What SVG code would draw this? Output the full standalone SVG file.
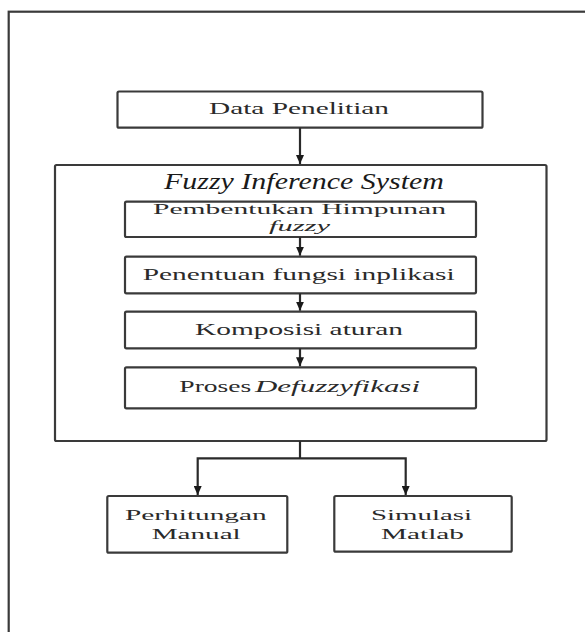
<svg xmlns="http://www.w3.org/2000/svg" width="585" height="632" viewBox="0 0 585 632">
<defs>
<style>
.box{fill:#fff;stroke:#3a3a3a;stroke-width:2.2}
.ln{fill:none;stroke:#2a2a2a;stroke-width:2.2}
text{font-family:'Liberation Serif','DejaVu Serif',serif;fill:#2a2a2a}
.t{font-size:17.5px}
.s{font-size:15.5px}
.i{font-style:italic}
.title{font-size:23px;font-style:italic;fill:#1a1a1a}
</style>
<marker id="ah" markerWidth="9" markerHeight="8" refX="9" refY="4" orient="auto" markerUnits="userSpaceOnUse">
<path d="M0,0 L9,4 L0,8 Z" fill="#1a1a1a"/>
</marker>
</defs>
<rect width="585" height="632" fill="#fff"/>
<rect id="frame" x="8.7" y="11.7" width="620" height="660" fill="none" stroke="#3a3a3a" stroke-width="2.2"/>
<g id="data">
<rect class="box" x="117.5" y="91.5" width="365" height="36.2" rx="1.5"/>
<text class="t" x="209" y="113.5" textLength="180" lengthAdjust="spacingAndGlyphs" font-family="Liberation Serif, serif">Data Penelitian</text>
</g>
<g id="fis">
<rect class="box" x="55" y="165" width="491.5" height="276" rx="1.5"/>
<text class="title" x="164" y="188.5" textLength="280" lengthAdjust="spacingAndGlyphs" font-family="Liberation Serif, serif">Fuzzy Inference System</text>
</g>
<g id="himpunan">
<rect class="box" x="125" y="201.7" width="351" height="35.3" rx="1.5"/>
<text class="s" x="153" y="214" textLength="293" lengthAdjust="spacingAndGlyphs" font-family="Liberation Serif, serif">Pembentukan Himpunan</text>
<text class="s i" x="269" y="231" textLength="61" lengthAdjust="spacingAndGlyphs" font-family="Liberation Serif, serif">fuzzy</text>
</g>
<g id="implikasi">
<rect class="box" x="125" y="256.7" width="351" height="36.6" rx="1.5"/>
<text class="t" x="142.7" y="280" textLength="312" lengthAdjust="spacingAndGlyphs" font-family="Liberation Serif, serif">Penentuan fungsi inplikasi</text>
</g>
<g id="komposisi">
<rect class="box" x="125" y="311.7" width="351" height="36.6" rx="1.5"/>
<text class="t" x="195" y="335" textLength="208" lengthAdjust="spacingAndGlyphs" font-family="Liberation Serif, serif">Komposisi aturan</text>
</g>
<g id="defuzzy">
<rect class="box" x="125" y="367.3" width="351" height="41" rx="1.5"/>
<text class="t" x="179.3" y="391.5" textLength="72" lengthAdjust="spacingAndGlyphs" font-family="Liberation Serif, serif">Proses</text>
<text class="t i" x="255" y="391.5" textLength="165" lengthAdjust="spacingAndGlyphs" font-family="Liberation Serif, serif">Defuzzyfikasi</text>
</g>
<g id="manual">
<rect class="box" x="107.3" y="496" width="180" height="56.7" rx="1.5"/>
<text class="s" x="125" y="519.5" textLength="141.7" lengthAdjust="spacingAndGlyphs" font-family="Liberation Serif, serif">Perhitungan</text>
<text class="s" x="151.7" y="538.5" textLength="89" lengthAdjust="spacingAndGlyphs" font-family="Liberation Serif, serif">Manual</text>
</g>
<g id="matlab">
<rect class="box" x="334.3" y="496" width="177.4" height="55.7" rx="1.5"/>
<text class="s" x="371" y="519.5" textLength="101" lengthAdjust="spacingAndGlyphs" font-family="Liberation Serif, serif">Simulasi</text>
<text class="s" x="381" y="538.5" textLength="83" lengthAdjust="spacingAndGlyphs" font-family="Liberation Serif, serif">Matlab</text>
</g>
<g id="connectors">
<line class="ln" x1="300" y1="127.7" x2="300" y2="164" marker-end="url(#ah)"/>
<line class="ln" x1="300" y1="237" x2="300" y2="255.7" marker-end="url(#ah)"/>
<line class="ln" x1="300" y1="293.3" x2="300" y2="310.7" marker-end="url(#ah)"/>
<line class="ln" x1="300" y1="348.3" x2="300" y2="366.3" marker-end="url(#ah)"/>
<polyline class="ln" points="300,441 300,458.3"/>
<polyline class="ln" points="300,458.3 197.7,458.3 197.7,495" marker-end="url(#ah)"/>
<polyline class="ln" points="300,458.3 405.7,458.3 405.7,495" marker-end="url(#ah)"/>
</g>
</svg>
